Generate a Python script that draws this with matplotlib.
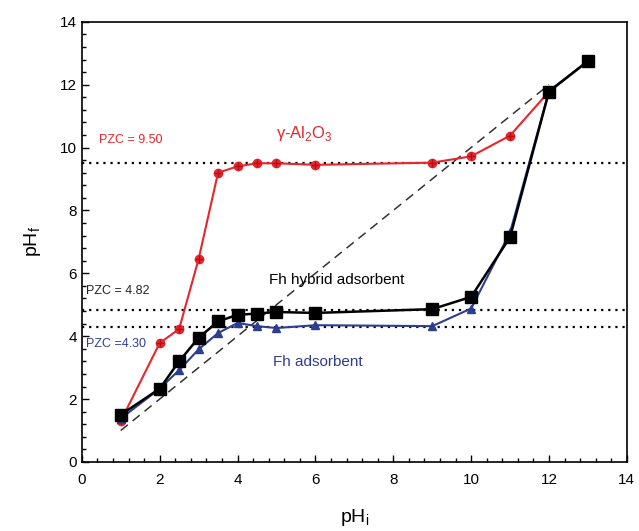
import matplotlib
matplotlib.use('Agg')
import matplotlib.pyplot as plt
from matplotlib.ticker import MultipleLocator

plt.rcParams['font.family'] = ['Liberation Sans', 'DejaVu Sans']

ph_i = [1, 2, 2.5, 3, 3.5, 4, 4.5, 5, 6, 9, 10, 11, 12, 13]
ph_f_al2o3 = [1.3, 3.78, 4.23, 6.45, 9.2, 9.4, 9.5, 9.5, 9.45, 9.52, 9.72, 10.38, 11.78, 12.75]
ph_f_hybrid = [1.5, 2.33, 3.2, 3.95, 4.47, 4.68, 4.72, 4.77, 4.74, 4.86, 5.25, 7.15, 11.78, 12.75]
ph_f_fh = [1.38, 2.33, 2.92, 3.58, 4.1, 4.42, 4.32, 4.26, 4.35, 4.32, 4.88, 7.3, 11.8, 12.75]
pzc_values = [9.50, 4.82, 4.30]
diag = [1, 12]

red = '#e8262d'
blue = '#2e3d8f'

fig = plt.figure(figsize=(6.39, 5.31), dpi=100)
ax = fig.add_axes([0.128, 0.130, 0.853, 0.829])

ax.plot(diag, diag, color='#333333', linestyle=(0, (6, 4)), linewidth=1.1, zorder=1)
for p in pzc_values:
    ax.axhline(p, color='black', linestyle=(0, (1, 2.2)), linewidth=1.6, zorder=1)

ax.plot(ph_i, ph_f_al2o3, color=red, marker='o', markersize=6, linewidth=1.5, zorder=2)
ax.plot(ph_i, ph_f_al2o3, color='#b01018', marker='+', markersize=6, linestyle='none',
        markeredgewidth=1, zorder=2)
ax.plot(ph_i, ph_f_fh, color=blue, marker='^', markersize=6, linewidth=1.5, zorder=3)
ax.plot(ph_i, ph_f_hybrid, color='black', marker='s', markersize=8, linewidth=1.8, zorder=4)

ax.text(0.45, 10.15, 'PZC = 9.50', color=red, fontsize=9)
ax.text(5.0, 10.3, 'γ-Al$_\\mathregular{2}$O$_\\mathregular{3}$', color=red, fontsize=12)
ax.text(4.8, 5.65, 'Fh hybrid adsorbent', color='black', fontsize=11)
ax.text(0.1, 5.35, 'PZC = 4.82', color='#222222', fontsize=9)
ax.text(0.1, 3.65, 'PZC =4.30', color=blue, fontsize=9)
ax.text(4.9, 3.05, 'Fh adsorbent', color=blue, fontsize=11)

ax.set_xlim(0, 14)
ax.set_ylim(0, 14)
ax.xaxis.set_major_locator(MultipleLocator(2))
ax.yaxis.set_major_locator(MultipleLocator(2))
ax.xaxis.set_minor_locator(MultipleLocator(0.4))
ax.yaxis.set_minor_locator(MultipleLocator(0.4))
ax.tick_params(which='both', direction='in', top=False, right=False, labelsize=11)
ax.tick_params(which='major', length=5, width=1)
ax.tick_params(which='minor', length=3, width=1)
ax.tick_params(axis='x', pad=8)
for s in ax.spines.values():
    s.set_linewidth(1.2)

ax.set_xlabel('pH$_\\mathregular{i}$', fontsize=14, labelpad=14)
ax.set_ylabel('pH$_\\mathregular{f}$', fontsize=14, labelpad=12)

fig.savefig('out.png', dpi=100)
